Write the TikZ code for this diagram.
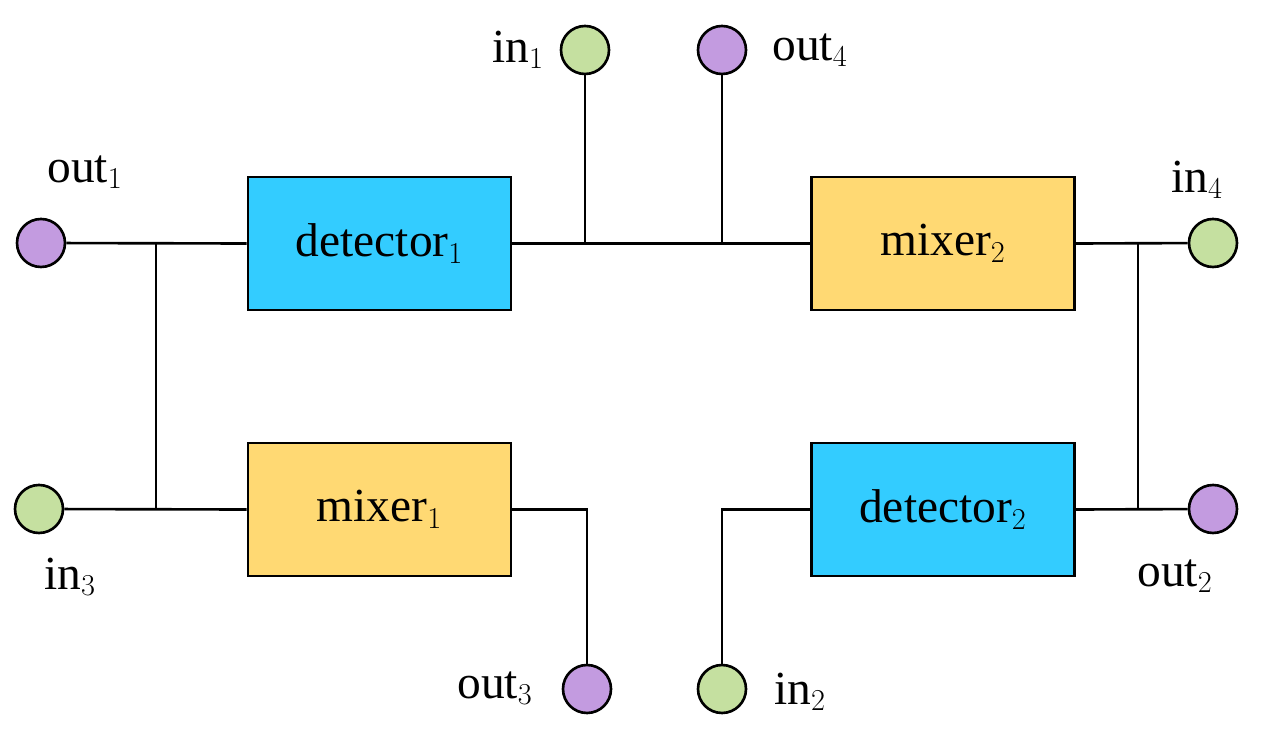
\documentclass[tikz,border=0pt]{standalone}
\usepackage{fontspec}
\setmainfont{Liberation Serif}
\begin{document}
\begin{tikzpicture}[x=0.02cm,y=-0.02cm,
  box/.style={draw,line width=1.5pt,minimum width=263*0.02cm,minimum height=133*0.02cm,inner sep=0pt,font=\fontsize{27}{30}\selectfont},
  det/.style={box,fill={rgb,255:red,51;green,204;blue,255}},
  mix/.style={box,fill={rgb,255:red,255;green,217;blue,115}},
  port/.style={circle,draw,line width=1.5pt,minimum size=48*0.02cm,inner sep=0pt},
  pin/.style={port,fill={rgb,255:red,197;green,224;blue,160}},
  pout/.style={port,fill={rgb,255:red,195;green,155;blue,224}},
  lab/.style={font=\fontsize{27}{30}\selectfont},
  w/.style={line width=1.5pt}]
\useasboundingbox (0,0) rectangle (1268,739);
\node[det] (d1) at (379.5,243.5) {detector$_1$};
\node[mix] (m1) at (379.5,509.5) {mixer$_1$};
\node[mix] (m2) at (943,243.5) {mixer$_2$};
\node[det] (d2) at (943,509.5) {detector$_2$};
\node[pout] (o1) at (41,243) {};
\node[pin] (i3) at (39,509) {};
\node[pin] (i1) at (585,50) {};
\node[pout] (o4) at (722,50) {};
\node[pin] (i4) at (1213,243) {};
\node[pout] (o2) at (1213,509) {};
\node[pout] (o3) at (587,689) {};
\node[pin] (i2) at (722,689) {};
\coordinate (jl1) at (156,243); \coordinate (jl2) at (156,509);
\coordinate (jr1) at (1138,243); \coordinate (jr2) at (1138,509);
\coordinate (ja) at (585,243); \coordinate (jb) at (722,243);
\draw[w] (o1) -- (d1.west);
\draw[w] (i3) -- (m1.west);
\draw[w] (jl1) -- (jl2);
\draw[w] (d1.east) -- (m2.west);
\draw[w] (i1) -- (ja);
\draw[w] (o4) -- (jb);
\draw[w] (m2.east) -- (i4);
\draw[w] (d2.east) -- (o2);
\draw[w] (jr1) -- (jr2);
\draw[w] (m1.east) -| (o3);
\draw[w] (d2.west) -| (i2);
\node[lab] (t1) at (85,172) {out$_1$};
\node[lab] (t2) at (70,577) {in$_3$};
\node[lab] (t3) at (518,50) {in$_1$};
\node[lab] (t4) at (810,50) {out$_4$};
\node[lab] (t5) at (1197,180) {in$_4$};
\node[lab] (t6) at (1175,576) {out$_2$};
\node[lab] (t7) at (495,688) {out$_3$};
\node[lab] (t8) at (800,692) {in$_2$};
\end{tikzpicture}
\end{document}
